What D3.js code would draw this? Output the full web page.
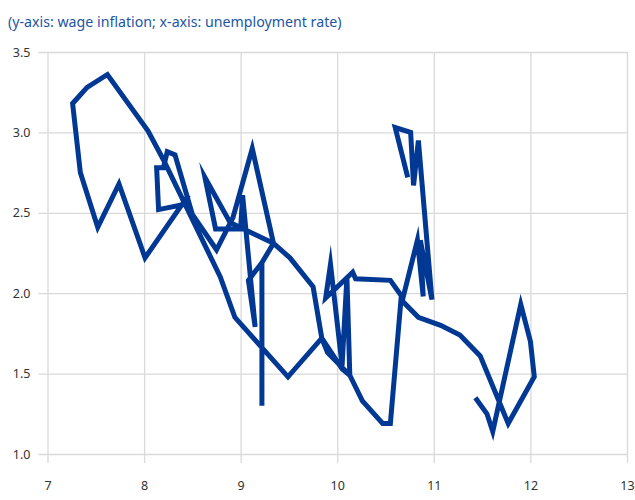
<!DOCTYPE html>
<html>
<head>
<meta charset="utf-8">
<script src="https://cdn.jsdelivr.net/npm/d3@7"></script>
<style>
  body { margin: 0; background: #fff; }
  svg { display: block; }
</style>
</head>
<body>
<svg id="chart" width="635" height="500"></svg>
<script>
// unemployment rate (x) and wage inflation (y), in drawing order
const unemployment = [
    10.73, 10.60, 10.76, 10.79, 10.84, 10.98, 10.86, 10.89, 10.83, 10.68,
    10.55, 10.19, 10.16, 9.88, 9.93, 10.05, 10.10, 10.13, 9.90, 9.84,
    9.49, 8.94, 8.79, 8.20, 8.04, 7.62, 7.41, 7.26, 7.34, 7.52,
    7.74, 8.01, 8.46, 8.40, 8.15, 8.13, 8.20, 8.24, 8.32, 8.50,
    8.75, 8.92, 9.12, 9.34, 9.22, 9.22, 9.22, 9.08, 9.15, 9.02,
    9.00, 8.74, 8.63, 8.89, 9.34, 9.51, 9.75, 9.84, 10.05, 10.13,
    10.26, 10.47, 10.55, 10.66, 10.84, 11.07, 11.27, 11.48, 11.77, 12.04,
    12.00, 11.90, 11.61, 11.55, 11.43
];
const wageInflation = [
    2.72, 3.03, 3.00, 2.67, 2.95, 1.96, 2.33, 1.98, 2.33, 1.97,
    2.08, 2.09, 2.13, 1.97, 2.18, 1.55, 2.10, 1.49, 1.63, 1.72,
    1.48, 1.85, 2.10, 2.83, 3.01, 3.36, 3.28, 3.18, 2.75, 2.41,
    2.68, 2.22, 2.61, 2.55, 2.52, 2.78, 2.78, 2.88, 2.86, 2.49,
    2.27, 2.47, 2.90, 2.31, 2.19, 1.30, 2.19, 2.08, 1.79, 2.61,
    2.40, 2.40, 2.72, 2.44, 2.31, 2.22, 2.04, 1.72, 1.53, 1.49,
    1.33, 1.19, 1.19, 1.96, 1.85, 1.80, 1.74, 1.61, 1.19, 1.48,
    1.70, 1.93, 1.14, 1.25, 1.35
];

const xTicks = [7, 8, 9, 10, 11, 12, 13];
const yTicks = [1.0, 1.5, 2.0, 2.5, 3.0, 3.5];
const title = "(y-axis: wage inflation; x-axis: unemployment rate)";

const points = unemployment.map((u, i) => ({ x: u, y: wageInflation[i] }));

const margin = { top: 52, right: 8, bottom: 46, left: 47.5 };
const width = 635, height = 500;

const svg = d3.select("#chart");

const x = d3.scaleLinear()
    .domain([7, 13])
    .range([margin.left, width - margin.right]);

const y = d3.scaleLinear()
    .domain([1, 3.5])
    .range([height - margin.bottom, margin.top]);

// title
svg.append("text")
    .attr("x", 8)
    .attr("y", 27)
    .attr("fill", "#2255a4")
    .attr("font-family", "'Noto Sans', sans-serif")
    .attr("font-size", 14.2)
    .text(title);

// y gridlines + labels
const yAxis = d3.axisLeft(y)
    .tickValues(yTicks)
    .tickFormat(d3.format(".1f"))
    .tickSize(-(width - margin.right - margin.left) - 9)
    .tickPadding(6);

const gy = svg.append("g")
    .attr("transform", `translate(${margin.left - 9},0)`)
    .call(yAxis);

// x gridlines + labels
const xAxis = d3.axisBottom(x)
    .tickValues(xTicks)
    .tickFormat(d3.format("d"))
    .tickSize(-(height - margin.bottom - margin.top) - 9)
    .tickPadding(18);

const gx = svg.append("g")
    .attr("transform", `translate(0,${height - margin.bottom + 9})`)
    .call(xAxis);

for (const g of [gx, gy]) {
    g.select(".domain").remove();
    g.selectAll(".tick line")
        .attr("stroke", "#d9d9d9")
        .attr("stroke-width", 1.3);
    g.selectAll(".tick text")
        .attr("fill", "#333")
        .attr("font-family", "'Noto Sans', sans-serif")
        .attr("font-size", 12.5);
}
gy.selectAll(".tick text").attr("x", -8);

// the path
const line = d3.line()
    .x(d => x(d.x))
    .y(d => y(d.y));

svg.append("path")
    .datum(points)
    .attr("fill", "none")
    .attr("stroke", "#003894")
    .attr("stroke-width", 5)
    .attr("stroke-linejoin", "miter")
    .attr("stroke-miterlimit", 10)
    .attr("d", line);
</script>
</body>
</html>
